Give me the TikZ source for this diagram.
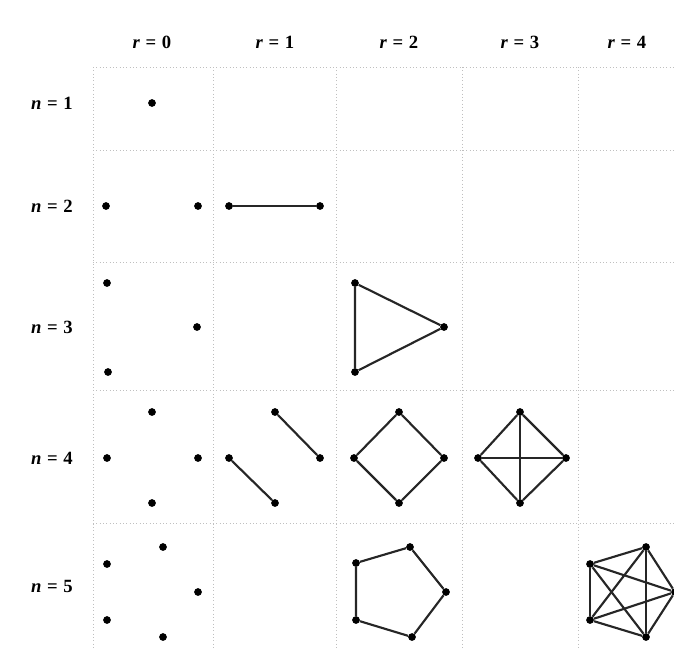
\documentclass[tikz,border=0pt]{standalone}
\usepackage{fontspec}
\setmainfont{Liberation Serif}
\newcommand{\lbl}[2]{\textbf{\textit{#1}}\hspace{0.3em}\textbf{=}\hspace{0.3em}\textbf{#2}}
\begin{document}
\begin{tikzpicture}[x=0.75pt,y=-0.75pt,
  v/.style={circle,fill=black,inner sep=0pt,minimum size=5.8pt},
  e/.style={line width=1.6pt,black!85},
  grid/.style={gray!50,dotted,line width=0.5pt},
  lab/.style={font=\fontsize{14}{16}\selectfont}]
\useasboundingbox (0,0) rectangle (674,650);
% grid
\foreach \x in {93,213,336,462,578} \draw[grid] (\x,67) -- (\x,650);
\foreach \y in {67,150,262,390,523} \draw[grid] (93,\y) -- (674,\y);
% column labels
\node[lab] (c0) at (152,42) {\lbl{r}{0}};
\node[lab] (c1) at (275,42) {\lbl{r}{1}};
\node[lab] (c2) at (399,42) {\lbl{r}{2}};
\node[lab] (c3) at (520,42) {\lbl{r}{3}};
\node[lab] (c4) at (627,42) {\lbl{r}{4}};
% row labels
\node[lab] (l1) at (52,103) {\lbl{n}{1}};
\node[lab] (l2) at (52,206) {\lbl{n}{2}};
\node[lab] (l3) at (52,327) {\lbl{n}{3}};
\node[lab] (l4) at (52,458) {\lbl{n}{4}};
\node[lab] (l5) at (52,586) {\lbl{n}{5}};
% n=1
\node[v] (a) at (152,103) {};
% n=2
\node[v] (b1) at (106,206) {};
\node[v] (b2) at (198,206) {};
\node[v] (b3) at (229,206) {};
\node[v] (b4) at (320,206) {};
\draw[e] (b3) -- (b4);
% n=3
\node[v] (c31) at (107,283) {};
\node[v] (c32) at (197,327) {};
\node[v] (c33) at (108,372) {};
\node[v] (t1) at (355,283) {};
\node[v] (t2) at (444,327) {};
\node[v] (t3) at (355,372) {};
\draw[e] (t1) -- (t2) -- (t3) -- (t1);
% n=4
\node[v] (d1) at (152,412) {};
\node[v] (d2) at (107,458) {};
\node[v] (d3) at (198,458) {};
\node[v] (d4) at (152,503) {};
\node[v] (m1) at (275,412) {};
\node[v] (m2) at (320,458) {};
\node[v] (m3) at (229,458) {};
\node[v] (m4) at (275,503) {};
\draw[e] (m1) -- (m2);
\draw[e] (m3) -- (m4);
\node[v] (s1) at (399,412) {};
\node[v] (s2) at (444,458) {};
\node[v] (s3) at (399,503) {};
\node[v] (s4) at (354,458) {};
\draw[e] (s1) -- (s2) -- (s3) -- (s4) -- (s1);
\node[v] (k1) at (520,412) {};
\node[v] (k2) at (566,458) {};
\node[v] (k3) at (520,503) {};
\node[v] (k4) at (478,458) {};
\draw[e] (k1) -- (k2) -- (k3) -- (k4) -- (k1);
\draw[e] (k1) -- (k3);
\draw[e] (k2) -- (k4);
% n=5
\node[v] (f1) at (163,547) {};
\node[v] (f2) at (107,564) {};
\node[v] (f3) at (198,592) {};
\node[v] (f4) at (107,620) {};
\node[v] (f5) at (163,637) {};
\node[v] (p1) at (410,547) {};
\node[v] (p2) at (356,563) {};
\node[v] (p3) at (446,592) {};
\node[v] (p4) at (356,620) {};
\node[v] (p5) at (412,637) {};
\draw[e] (p1) -- (p3) -- (p5) -- (p4) -- (p2) -- (p1);
\node[v] (q1) at (646,547) {};
\node[v] (q2) at (590,564) {};
\node[v] (q3) at (675,592) {};
\node[v] (q4) at (590,620) {};
\node[v] (q5) at (646,637) {};
\foreach \i/\j in {q1/q2,q1/q3,q1/q4,q1/q5,q2/q3,q2/q4,q2/q5,q3/q4,q3/q5,q4/q5}
  \draw[e] (\i) -- (\j);
\end{tikzpicture}
\end{document}
